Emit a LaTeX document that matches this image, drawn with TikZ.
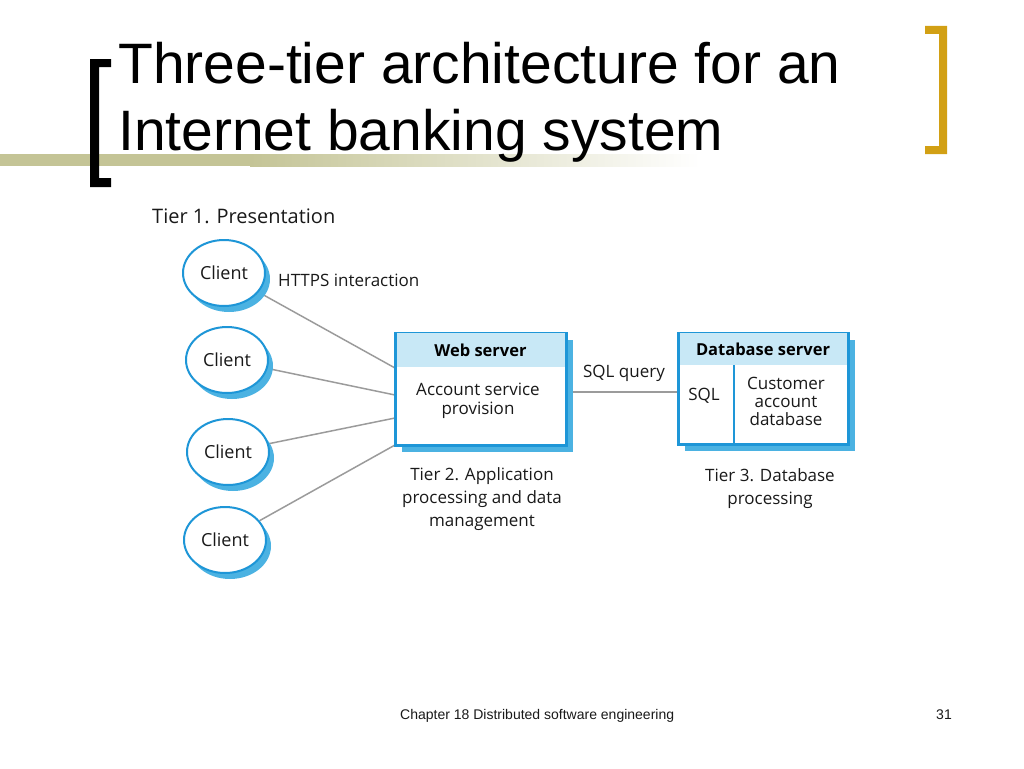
\documentclass[tikz,border=0pt]{standalone}
\usepackage{fontspec}
\setmainfont{Liberation Sans}
\newfontfamily\diagfont{Open Sans}
\usepackage{tikz}
\usetikzlibrary{shapes.geometric,shadows,backgrounds}

\definecolor{lineblue}{RGB}{30,150,215}
\definecolor{shadowblue}{RGB}{75,178,226}
\definecolor{headblue}{RGB}{200,232,246}
\definecolor{wiregray}{RGB}{155,155,155}
\definecolor{gold}{RGB}{210,160,20}
\definecolor{khaki}{RGB}{196,196,150}
\definecolor{inkgray}{RGB}{25,25,25}

\begin{document}
\begin{tikzpicture}[x=1pt,y=-1pt,
    lbl/.style={text=inkgray,inner sep=0pt,align=center,font=\diagfont\fontsize{17}{23}\selectfont},
    client/.style={ellipse,draw=lineblue,line width=2pt,fill=white,
      minimum width=82pt,minimum height=66pt,inner sep=0pt,text=inkgray,
      font=\diagfont\fontsize{18}{20}\selectfont,
      drop shadow={shadow xshift=5pt,shadow yshift=-6pt,fill=shadowblue,opacity=1}},
    server/.style={rectangle,draw=lineblue,line width=3pt,fill=white,inner sep=0pt,
      drop shadow={shadow xshift=7pt,shadow yshift=-7pt,fill=shadowblue,opacity=1}},
    head/.style={rectangle,fill=headblue,inner sep=0pt,text=black,
      font=\diagfont\bfseries\fontsize{16.5}{18}\selectfont},
    wire/.style={draw=wiregray,line width=1.5pt}]

  \useasboundingbox (0,0) rectangle (1024,768);

  % title bar
  \fill[khaki] (0,154) rectangle (250,166);
  \shade[left color=khaki,right color=white] (250,154) rectangle (700,166);
  \fill[black] (90,59) -- (111,59) -- (111,67) -- (99,67) -- (99,178) -- (111,178)
    -- (111,187) -- (90,187) -- cycle;
  \fill[gold] (925,26) -- (947,26) -- (947,154) -- (925,154) -- (925,146) -- (939,146)
    -- (939,34) -- (925,34) -- cycle;
  \node[anchor=base west,inner sep=0pt,font=\fontsize{57}{67}\selectfont] (title1) at (118,83)
    {Three-tier architecture for an};
  \node[anchor=base west,inner sep=0pt,font=\fontsize{57}{67}\selectfont] (title2) at (118,150)
    {Internet banking system};

  % tier 1
  \node[lbl,anchor=west,font=\diagfont\fontsize{20}{23}\selectfont] (tier1) at (152,216)
    {Tier 1. Presentation};
  \foreach \i/\x/\y in {1/224/273,2/227/360,3/228/452,4/225/540} {
    \node[client] (c\i) at (\x,\y) {Client};
  }
  \node[lbl,anchor=west] (https) at (278,280) {HTTPS interaction};

  % tier 2
  \node[server,minimum width=171pt,minimum height=112pt] (web) at (480.5,389) {};
  \node[head,minimum width=168pt,minimum height=34pt,anchor=north] (webhead)
    at ([yshift=-1.5pt]web.north) {Web server};
  \node[lbl,font=\diagfont\fontsize{17}{19}\selectfont] (websvc) at (478,401)
    {Account service\\provision};
  \node[lbl] (tier2) at (482,499) {Tier 2. Application\\processing and data\\management};
  \foreach \i/\y in {1/368,2/395,3/418,4/445} {
    \coordinate (w\i) at (395,\y);
  }

  % tier 3
  \node[server,minimum width=170pt,minimum height=111pt] (db) at (763,388.5) {};
  \node[head,minimum width=167pt,minimum height=32pt,anchor=north] (dbhead)
    at ([yshift=-1.5pt]db.north) {Database server};
  \draw[draw=lineblue,line width=2pt] (dbhead.south -| 734,0) -- (db.south -| 734,0);
  \node[lbl] (sql) at (704,396) {SQL};
  \node[lbl,font=\diagfont\fontsize{17}{18}\selectfont] (custdb) at (786,401)
    {Customer\\account\\database};
  \node[lbl] (tier3) at (770,489) {Tier 3. Database\\processing};

  % wires
  \begin{scope}[on background layer]
    \foreach \i in {1,...,4} {
      \draw[wire] (c\i) -- (w\i);
    }
    \draw[wire] ([yshift=-3pt]web.east) -- ([yshift=-3pt]web.east -| db.west);
  \end{scope}
  \node[lbl,anchor=south] (query) at (624,382) {SQL query};

  % footer
  \node[anchor=base west,inner sep=0pt,text=inkgray,font=\fontsize{14}{16}\selectfont] (chap)
    at (400,719) {Chapter 18 Distributed software engineering};
  \node[anchor=base east,inner sep=0pt,text=inkgray,font=\fontsize{14}{16}\selectfont] (page)
    at (952,719) {31};

\end{tikzpicture}
\end{document}
